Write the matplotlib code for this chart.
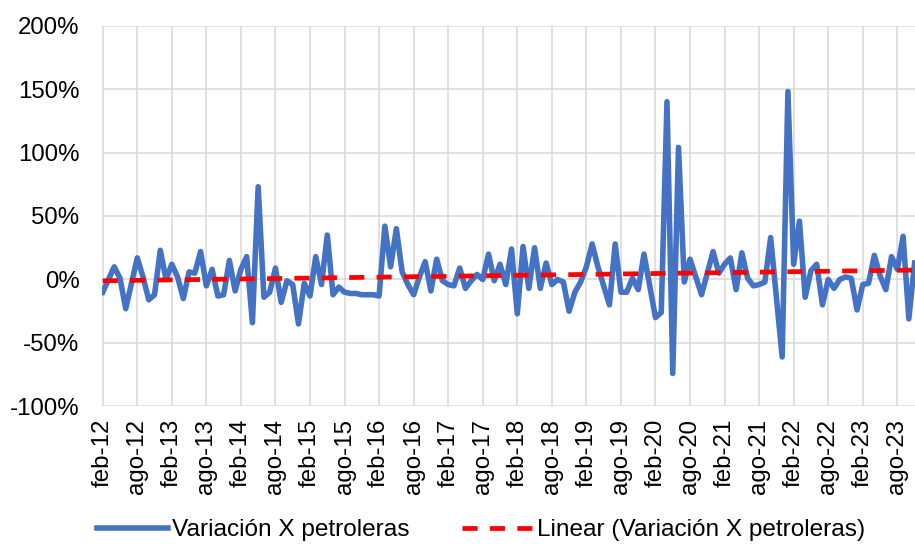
import numpy as np
import matplotlib
matplotlib.use('Agg')
import matplotlib.pyplot as plt

plt.rcParams['font.family'] = ['Liberation Sans', 'DejaVu Sans']

# monthly variation (%), feb-12 onwards
variacion = [
    -10, 0, 10, 1, -23, -3, 17, 2, -16, -12,
    23, 0, 12, 2, -15, 6, 5, 22, -5, 8,
    -13, -12, 15, -9, 8, 18, -34, 73, -14, -10,
    9, -18, -1, -4, -35, -3, -13, 18, -4, 35,
    -12, -6, -10, -11, -11, -12, -12, -12, -13, 42,
    10, 40, 6, -4, -12, 2, 14, -9, 16, -1,
    -4, -5, 9, -7, -1, 4, 0, 20, -1, 12,
    -4, 24, -27, 26, -7, 25, -7, 13, -4, 0,
    -2, -25, -10, -2, 10, 28, 10, -5, -20, 28,
    -10, -10, 1, -8, 20, -5, -30, -26, 140, -74,
    104, -2, 16, 2, -12, 5, 22, 5, 12, 17,
    -8, 21, 1, -5, -4, -2, 33, -14, -61, 148,
    12, 46, -14, 7, 12, -20, 0, -7, 0, 2,
    1, -24, -4, -3, 19, 3, -8, 18, 8, 34,
    -31, 13,
]

tick_labels = ['feb-12', 'ago-12', 'feb-13', 'ago-13', 'feb-14', 'ago-14',
               'feb-15', 'ago-15', 'feb-16', 'ago-16', 'feb-17', 'ago-17',
               'feb-18', 'ago-18', 'feb-19', 'ago-19', 'feb-20', 'ago-20',
               'feb-21', 'ago-21', 'feb-22', 'ago-22', 'feb-23', 'ago-23']
y_ticks = [-100, -50, 0, 50, 100, 150, 200]

fig = plt.figure(figsize=(9.15, 5.44), dpi=100)
ax = fig.add_axes([0.1113, 0.2528, 0.8887, 0.7003])

x = np.arange(len(variacion))
ax.plot(x, variacion, color='#4472C4', lw=4.0, solid_joinstyle='round',
        label='Variación X petroleras', zorder=3)

# linear trend
coef = np.polyfit(x, variacion, 1)
ax.plot(x, np.polyval(coef, x), color='#FF0000', lw=3.4, ls=(0, (3.2, 2.6)),
        label='Linear (Variación X petroleras)', zorder=4)

ax.set_xlim(-0.15, 141.07)
ax.set_ylim(-100, 200)
ax.set_xticks(np.arange(0, len(tick_labels) * 6, 6))
ax.set_xticklabels(tick_labels, rotation=90)
ax.set_yticks(y_ticks)
ax.set_yticklabels([f'{v}%' for v in y_ticks])
ax.tick_params(axis='both', length=0, labelsize=17.3, labelcolor='black')
ax.tick_params(axis='y', pad=16)
ax.tick_params(axis='x', pad=9)

ax.grid(color='#D9D9D9', lw=1.1)
ax.set_axisbelow(True)
for sp in ax.spines.values():
    sp.set_visible(False)

fig.legend(loc='center left', bbox_to_anchor=(97 / 915, 14 / 544), ncol=2,
           frameon=False, fontsize=17.6, handlelength=2.9, handletextpad=0.17,
           columnspacing=2.15, borderpad=0, borderaxespad=0)

fig.savefig('out.png', dpi=100)
